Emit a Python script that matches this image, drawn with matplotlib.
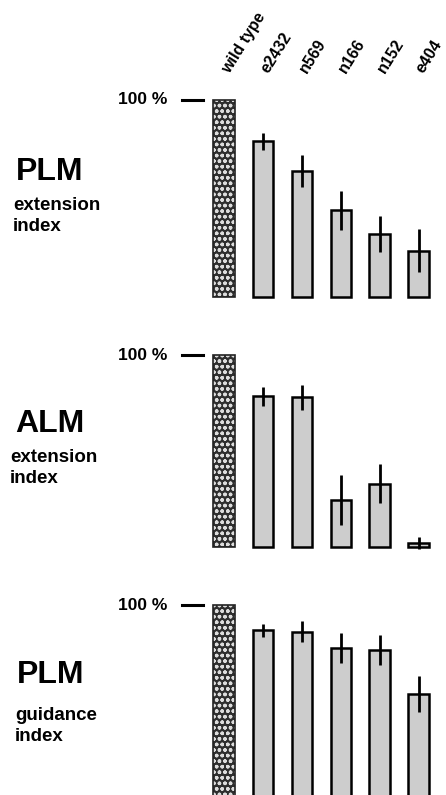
import matplotlib
matplotlib.use("Agg")
import matplotlib.pyplot as plt
import matplotlib.transforms as mtransforms
from matplotlib.lines import Line2D

plt.rcParams['font.family'] = ['Liberation Sans', 'DejaVu Sans']
plt.rcParams['font.weight'] = 'bold'
plt.rcParams['hatch.linewidth'] = 1.0

strains = ["wild type", "e2432", "n569", "n166", "n152", "e404"]

plm_ext = [1.00, 0.79, 0.64, 0.44, 0.32, 0.235]
plm_ext_err = [0.0, 0.045, 0.08, 0.10, 0.09, 0.11]

alm_ext = [1.00, 0.785, 0.78, 0.245, 0.33, 0.02]
alm_ext_err = [0.0, 0.05, 0.065, 0.13, 0.10, 0.03]

plm_gui = [1.00, 0.87, 0.863, 0.78, 0.768, 0.544]
plm_gui_err = [0.0, 0.035, 0.055, 0.077, 0.077, 0.094]

panel_titles = ["PLM", "ALM", "PLM"]
panel_subs = ["extension\nindex", "extension\nindex", "guidance\nindex"]
tick_label = "100 %"

W, H = 446, 795
fig = plt.figure(figsize=(W / 100, H / 100), dpi=100)

# layout in pixels
x_left_px, x_right_px = 200, 442
bar0_px, bar_step_px = 224, 38.9
panels_px = [  # baseline, 100% line, axes bottom
    (297, 100, 300),
    (547, 355, 550),
    (800, 605, 795),
]
title_px = [(16, 172, 13, 216), (15, 424, 10, 468), (17, 675, 15, 726)]

data = [(plm_ext, plm_ext_err), (alm_ext, alm_ext_err), (plm_gui, plm_gui_err)]

axes = []
for i, ((y0, y100, ybot), (vals, errs)) in enumerate(zip(panels_px, data)):
    ytop = y100 - 20
    ax = fig.add_axes([x_left_px / W, 1 - ybot / H,
                       (x_right_px - x_left_px) / W, (ybot - ytop) / H])
    scale = y0 - y100
    ax.set_ylim(-(ybot - y0) / scale, 1 + (y100 - ytop) / scale)
    ax.set_xlim((x_left_px - bar0_px) / bar_step_px,
                (x_right_px - bar0_px) / bar_step_px)
    xs = list(range(len(strains)))
    # wild type: dark with white dot pattern
    ax.bar(xs[0], vals[0], width=0.55, facecolor='#2e2e2e', edgecolor='#dcdcdc',
           hatch='ooo', linewidth=0)
    ax.bar(xs[0], vals[0], width=0.55, facecolor='none', edgecolor='#222222',
           linewidth=1.2)
    ax.bar(xs[1:], vals[1:], width=0.52, facecolor='#cdcdcd', edgecolor='black',
           linewidth=1.8)
    ax.errorbar(xs[1:], vals[1:], yerr=errs[1:], fmt='none', ecolor='black',
                elinewidth=2, capsize=0)
    ax.axis('off')
    axes.append(ax)

    # 100 % label and dash
    fig.text(118 / W, 1 - y100 / H, tick_label, ha='left', va='center',
             fontsize=12.5, fontweight='bold')
    fig.add_artist(Line2D([182 / W, 203 / W], [1 - y100 / H, 1 - y100 / H],
                          color='black', linewidth=2.2, transform=fig.transFigure))

    tx, ty, sx, sy = title_px[i]
    fig.text(tx / W, 1 - ty / H, panel_titles[i], ha='left', va='center',
             fontsize=23, fontweight='bold')
    fig.text(sx / W, 1 - sy / H, panel_subs[i], ha='left', va='center',
             fontsize=13.5, fontweight='bold', linespacing=1.25)

trans = mtransforms.blended_transform_factory(axes[0].transData, fig.transFigure)
for j, s in enumerate(strains):
    fig.text(j + 0.2, 1 - 76 / H, s, transform=trans, rotation=58,
             rotation_mode='anchor', ha='left', va='bottom', fontsize=11.5,
             fontweight='bold')

fig.savefig("out.png", dpi=100)
